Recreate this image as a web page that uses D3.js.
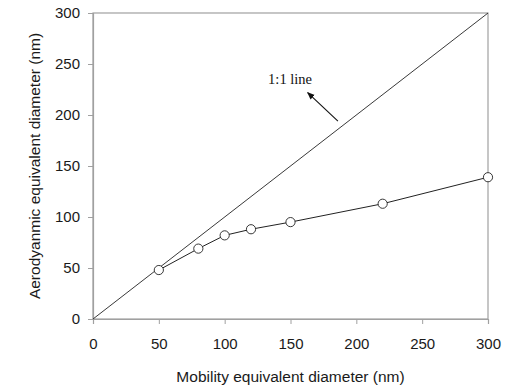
<!DOCTYPE html>
<html>
<head>
<meta charset="utf-8">
<script src="https://cdn.jsdelivr.net/npm/d3@7"></script>
<style>
  body { margin: 0; background: #fff; }
</style>
</head>
<body>
<div id="chart"></div>
<script>
const mobility = [50, 80, 100, 120, 150, 220, 300];
const aerodynamic = [48, 69, 82, 88, 95, 113, 139];
const xTicks = [0, 50, 100, 150, 200, 250, 300];
const yTicks = [0, 50, 100, 150, 200, 250, 300];
const oneToOne = [0, 300];

const W = 510, H = 387;
const margin = {left: 93, right: 22, top: 13, bottom: 68};

const svg = d3.select("#chart").append("svg")
    .attr("width", W)
    .attr("height", H);

const x = d3.scaleLinear().domain([0, 300]).range([margin.left, W - margin.right]);
const y = d3.scaleLinear().domain([0, 300]).range([H - margin.bottom, margin.top]);

// plot frame
svg.append("rect")
    .attr("x", x(0))
    .attr("y", y(300))
    .attr("width", x(300) - x(0))
    .attr("height", y(0) - y(300))
    .attr("fill", "none")
    .attr("stroke", "#a0a0a0")
    .attr("stroke-width", 1.2);

const xAxis = svg.append("g")
    .attr("transform", `translate(0,${y(0)})`)
    .call(d3.axisBottom(x).tickValues(xTicks).tickSize(5).tickPadding(14));

const yAxis = svg.append("g")
    .attr("transform", `translate(${x(0)},0)`)
    .call(d3.axisLeft(y).tickValues(yTicks).tickSize(5).tickPadding(8));

[xAxis, yAxis].forEach(g => {
    g.select(".domain").attr("stroke", "#a0a0a0").attr("stroke-width", 1.2);
    g.selectAll(".tick line").attr("stroke", "#a0a0a0");
    g.selectAll(".tick text")
        .attr("fill", "#1a1a1a")
        .attr("font-family", "Arial, 'Liberation Sans', sans-serif")
        .attr("font-size", "15px");
});

// 1:1 line
svg.append("line")
    .attr("x1", x(oneToOne[0]))
    .attr("y1", y(oneToOne[0]))
    .attr("x2", x(oneToOne[1]))
    .attr("y2", y(oneToOne[1]))
    .attr("stroke", "#222")
    .attr("stroke-width", 0.9);

// measured series
const line = d3.line()
    .x((d, i) => x(mobility[i]))
    .y(d => y(d));

svg.append("path")
    .datum(aerodynamic)
    .attr("fill", "none")
    .attr("stroke", "#222")
    .attr("stroke-width", 1)
    .attr("d", line);

svg.append("g")
    .selectAll("circle")
    .data(aerodynamic)
    .join("circle")
    .attr("cx", (d, i) => x(mobility[i]))
    .attr("cy", d => y(d))
    .attr("r", 4.6)
    .attr("fill", "#fff")
    .attr("stroke", "#222")
    .attr("stroke-width", 0.9);

// annotation
svg.append("defs").append("marker")
    .attr("id", "arrow")
    .attr("viewBox", "0 0 10 10")
    .attr("refX", 9)
    .attr("refY", 5)
    .attr("markerWidth", 7)
    .attr("markerHeight", 7)
    .attr("orient", "auto")
    .append("path")
    .attr("d", "M0,1 L10,5 L0,9 Z")
    .attr("fill", "#111");

svg.append("line")
    .attr("x1", x(186))
    .attr("y1", y(194))
    .attr("x2", x(163))
    .attr("y2", y(222))
    .attr("stroke", "#111")
    .attr("stroke-width", 1.1)
    .attr("marker-end", "url(#arrow)");

svg.append("text")
    .attr("x", x(133))
    .attr("y", y(230))
    .attr("font-family", "'Times New Roman', 'Liberation Serif', serif")
    .attr("font-size", "14.5px")
    .attr("fill", "#111")
    .text("1:1 line");

// axis titles
svg.append("text")
    .attr("x", (x(0) + x(300)) / 2)
    .attr("y", 382)
    .attr("text-anchor", "middle")
    .attr("font-family", "Arial, 'Liberation Sans', sans-serif")
    .attr("font-size", "15.5px")
    .attr("fill", "#1a1a1a")
    .text("Mobility equivalent diameter (nm)");

svg.append("text")
    .attr("transform", `translate(40,${(y(0) + y(300)) / 2}) rotate(-90)`)
    .attr("text-anchor", "middle")
    .attr("font-family", "Arial, 'Liberation Sans', sans-serif")
    .attr("font-size", "15.5px")
    .attr("fill", "#1a1a1a")
    .text("Aerodyanmic equivalent diameter (nm)");
</script>
</body>
</html>
